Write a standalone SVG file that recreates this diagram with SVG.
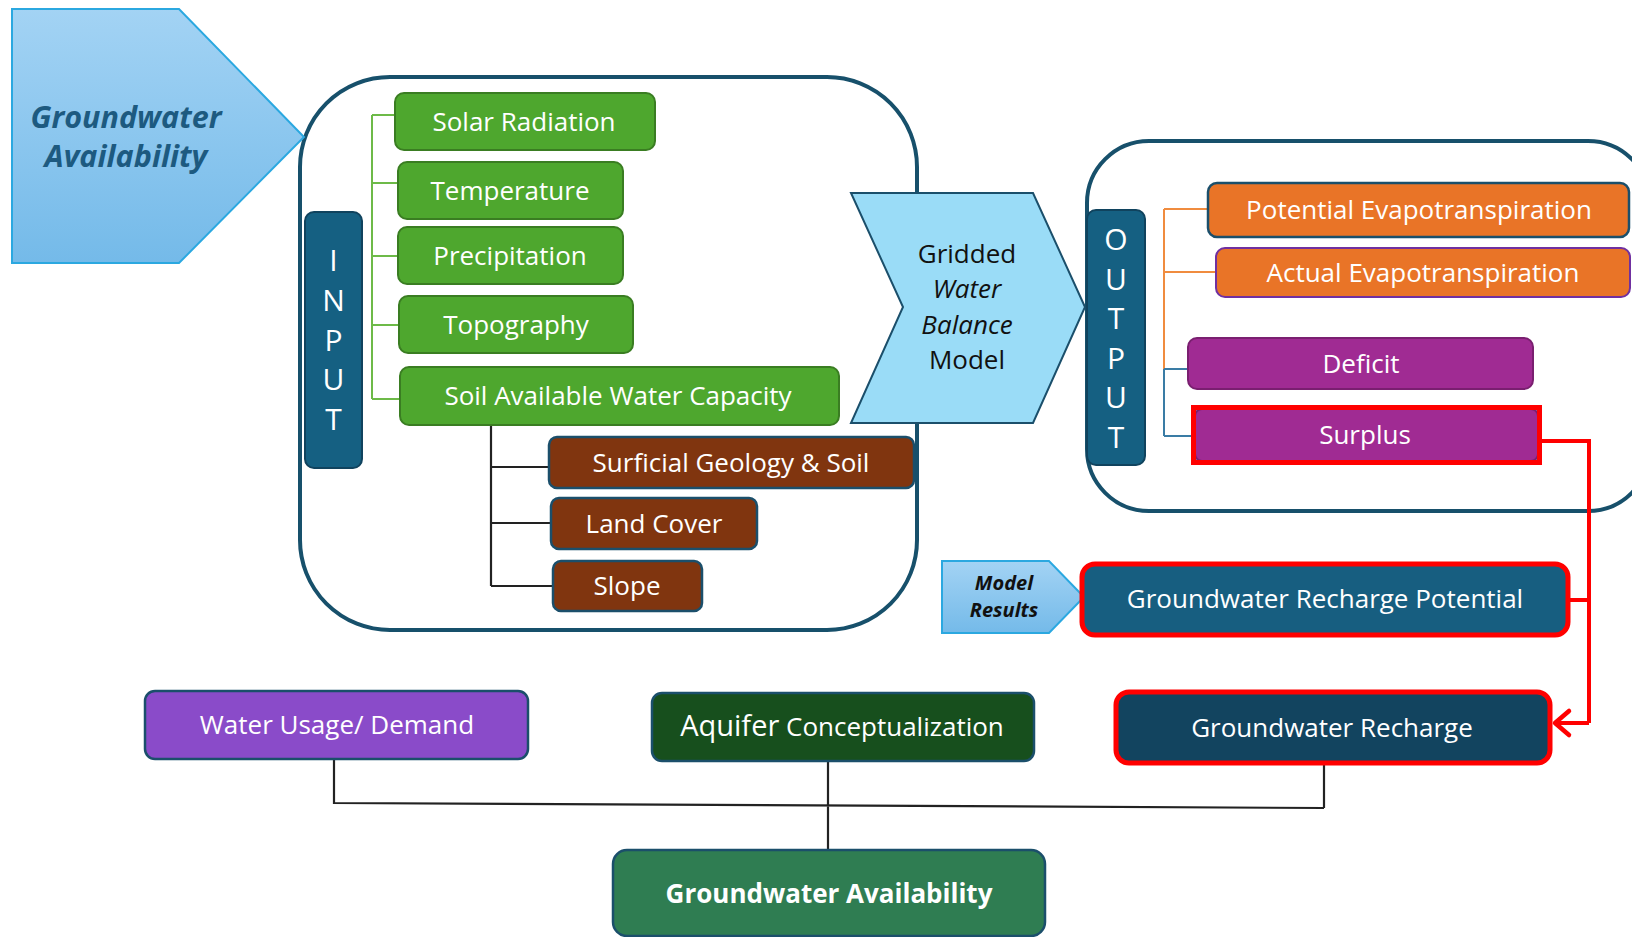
<svg xmlns="http://www.w3.org/2000/svg" width="1632" height="937" viewBox="0 0 1632 937">
<defs>
<linearGradient id="pentGrad" x1="0" y1="0" x2="0" y2="1">
<stop offset="0" stop-color="#A3D3F4"/>
<stop offset="1" stop-color="#74BAE9"/>
</linearGradient>
<marker id="redArrow" markerUnits="userSpaceOnUse" markerWidth="20" markerHeight="30" refX="16" refY="13" orient="auto" overflow="visible">
<path d="M2,1 L16,13 L2,25" fill="none" stroke="#FF0000" stroke-width="4.5" stroke-linecap="round" stroke-linejoin="round"/>
</marker>
<style>
.lbl{font-family:"Open Sans","Noto Sans","Liberation Sans",sans-serif;font-size:26px;fill:#FFFFFF;text-anchor:middle}
.bar{fill:#156082;stroke:#10435E;stroke-width:2}
.barTxt{font-family:"Open Sans","Noto Sans","Liberation Sans",sans-serif;font-size:30px;fill:#FFFFFF;text-anchor:middle}
.container{fill:none;stroke:#17506B;stroke-width:4}
.green{fill:#4EA72E;stroke:#3A7D22;stroke-width:2}
.brown{fill:#80350F;stroke:#1B4F6B;stroke-width:2.5}
.orange{fill:#E97427}
.purple{fill:#A02B93;stroke:#7A1F70;stroke-width:2}
.pent{fill:url(#pentGrad);stroke:#2BA8E0;stroke-width:2}
.gconn{fill:none;stroke:#6DBA48;stroke-width:2}
.kconn{fill:none;stroke:#222222;stroke-width:2.2}
.oconn{fill:none;stroke:#F08C3F;stroke-width:2}
.bconn{fill:none;stroke:#3A7CA5;stroke-width:2}
.rconn{fill:none;stroke:#FF0000;stroke-width:4}
.redbox{stroke:#FF0000;stroke-width:5}
.gwb{font-family:"Open Sans","Noto Sans","Liberation Sans",sans-serif;font-size:26px;fill:#111111;text-anchor:middle}
.bigit{font-family:"Open Sans","Noto Sans",sans-serif;font-weight:bold;font-style:italic;text-anchor:middle}
</style>
</defs>
<rect width="1632" height="937" fill="#FFFFFF"/>

<!-- containers -->
<g id="input-container">
<rect class="container" x="300" y="77" width="617" height="553" rx="90" ry="90"/>
</g>
<g id="output-container">
<rect class="container" x="1087" y="141" width="563" height="370" rx="62" ry="62"/>
</g>

<!-- connectors -->
<g id="connectors">
<path class="gconn" d="M372,115 V399 M372,115 H395 M372,183 H398 M372,256 H398 M372,325 H399 M372,399 H400"/>
<path class="kconn" d="M491,425 V586 M491,467 H549 M491,523 H551 M491,586 H553"/>
<path class="oconn" d="M1164,209 V369 M1164,209 H1208 M1164,272 H1216"/>
<path class="bconn" d="M1164,369 V436 M1164,369 H1188 M1164,436 H1193"/>
<path class="rconn" d="M1540,441 H1589 V723 M1568,600 H1589"/>
<path class="rconn" d="M1589,723 H1555" marker-end="url(#redArrow)"/>
<path class="kconn" d="M334,759 V803 L1324,808 M1324,763 V808 M828,761 V850"/>
</g>

<!-- left pentagon -->
<g id="ga-arrow">
<polygon class="pent" points="12,9 179,9 304,137 179,263 12,263"/>
<text class="bigit" x="126" y="128" font-size="30.5" fill="#1D5A80">Groundwater</text>
<text class="bigit" x="126" y="167" font-size="30.5" fill="#1D5A80">Availability</text>
</g>

<!-- INPUT bar -->
<g id="input-bar">
<rect class="bar" x="305" y="212" width="57" height="256" rx="9"/>
<text class="barTxt" x="333.5" y="271">I</text>
<text class="barTxt" x="333.5" y="311">N</text>
<text class="barTxt" x="333.5" y="351">P</text>
<text class="barTxt" x="333.5" y="390">U</text>
<text class="barTxt" x="333.5" y="430">T</text>
</g>

<!-- green inputs -->
<g id="solar-radiation">
<rect class="green" x="395" y="93" width="260" height="57" rx="9"/>
<text class="lbl" x="524" y="131">Solar Radiation</text>
</g>
<g id="temperature">
<rect class="green" x="398" y="162" width="225" height="57" rx="9"/>
<text class="lbl" x="510" y="200">Temperature</text>
</g>
<g id="precipitation">
<rect class="green" x="398" y="227" width="225" height="57" rx="9"/>
<text class="lbl" x="510" y="265">Precipitation</text>
</g>
<g id="topography">
<rect class="green" x="399" y="296" width="234" height="57" rx="9"/>
<text class="lbl" x="516" y="334">Topography</text>
</g>
<g id="soil-awc">
<rect class="green" x="400" y="367" width="439" height="58" rx="9"/>
<text class="lbl" x="618" y="405">Soil Available Water Capacity</text>
</g>

<!-- brown -->
<g id="surficial-geology">
<rect class="brown" x="549" y="437" width="365" height="51" rx="8"/>
<text class="lbl" x="731" y="472">Surficial Geology &amp; Soil</text>
</g>
<g id="land-cover">
<rect class="brown" x="551" y="498" width="206" height="51" rx="8"/>
<text class="lbl" x="654" y="533">Land Cover</text>
</g>
<g id="slope">
<rect class="brown" x="553" y="561" width="149" height="50" rx="8"/>
<text class="lbl" x="627" y="595">Slope</text>
</g>

<!-- Gridded Water Balance Model chevron -->
<g id="gwb-model">
<polygon points="851,193 1033,193 1085,307 1033,423 851,423 903,307" fill="#9ADCF7" stroke="#1B4F6B" stroke-width="2"/>
<text class="gwb" x="967" y="263">Gridded</text>
<text class="gwb" x="967" y="298" font-style="italic">Water</text>
<text class="gwb" x="967" y="334" font-style="italic">Balance</text>
<text class="gwb" x="967" y="369">Model</text>
</g>

<!-- OUTPUT bar -->
<g id="output-bar">
<rect class="bar" x="1087" y="210" width="58" height="255" rx="9"/>
<text class="barTxt" x="1116" y="250">O</text>
<text class="barTxt" x="1116" y="289.5">U</text>
<text class="barTxt" x="1116" y="329">T</text>
<text class="barTxt" x="1116" y="368.5">P</text>
<text class="barTxt" x="1116" y="408">U</text>
<text class="barTxt" x="1116" y="447.5">T</text>
</g>

<!-- outputs -->
<g id="potential-et">
<rect class="orange" x="1208" y="183" width="421" height="54" rx="9" stroke="#1B4F6B" stroke-width="2.5"/>
<text class="lbl" x="1419" y="219">Potential Evapotranspiration</text>
</g>
<g id="actual-et">
<rect class="orange" x="1216" y="248" width="414" height="49" rx="9" stroke="#7030A0" stroke-width="2"/>
<text class="lbl" x="1423" y="281.5">Actual Evapotranspiration</text>
</g>
<g id="deficit">
<rect class="purple" x="1188" y="338" width="345" height="51" rx="9"/>
<text class="lbl" x="1361" y="373">Deficit</text>
</g>
<g id="surplus">
<rect class="purple" x="1195" y="409" width="343" height="52" rx="7"/>
<rect x="1193.5" y="407.5" width="346" height="55" fill="none" class="redbox"/>
<text class="lbl" x="1365" y="444">Surplus</text>
</g>

<!-- Model results -->
<g id="model-results">
<polygon class="pent" points="942,561 1049,561 1084,597 1049,633 942,633"/>
<text class="bigit" x="1004" y="590" font-size="20" fill="#111111">Model</text>
<text class="bigit" x="1004" y="617" font-size="20" fill="#111111">Results</text>
</g>

<g id="gw-recharge-potential">
<rect class="redbox" x="1082" y="564" width="486" height="71" rx="13" fill="#175E80"/>
<text class="lbl" x="1325" y="608">Groundwater Recharge Potential</text>
</g>
<g id="gw-recharge">
<rect class="redbox" x="1116" y="692" width="434" height="71" rx="13" fill="#12445F"/>
<text class="lbl" x="1332" y="737">Groundwater Recharge</text>
</g>

<!-- bottom row -->
<g id="water-usage">
<rect x="145" y="691" width="383" height="68" rx="10" fill="#8A4BC9" stroke="#1B4F6B" stroke-width="2.5"/>
<text class="lbl" x="337" y="734">Water Usage/ Demand</text>
</g>
<g id="aquifer">
<rect x="652" y="693" width="382" height="68" rx="10" fill="#174F1D" stroke="#1B4F6B" stroke-width="2.5"/>
<text class="lbl" x="842" y="736"><tspan font-size="29">Aquifer</tspan> Conceptualization</text>
</g>
<g id="groundwater-availability">
<rect x="613" y="850" width="432" height="86" rx="14" fill="#2F7D52" stroke="#1B4F6B" stroke-width="2.5"/>
<text class="lbl" x="829" y="903" font-weight="bold" font-size="25">Groundwater Availability</text>
</g>
</svg>
